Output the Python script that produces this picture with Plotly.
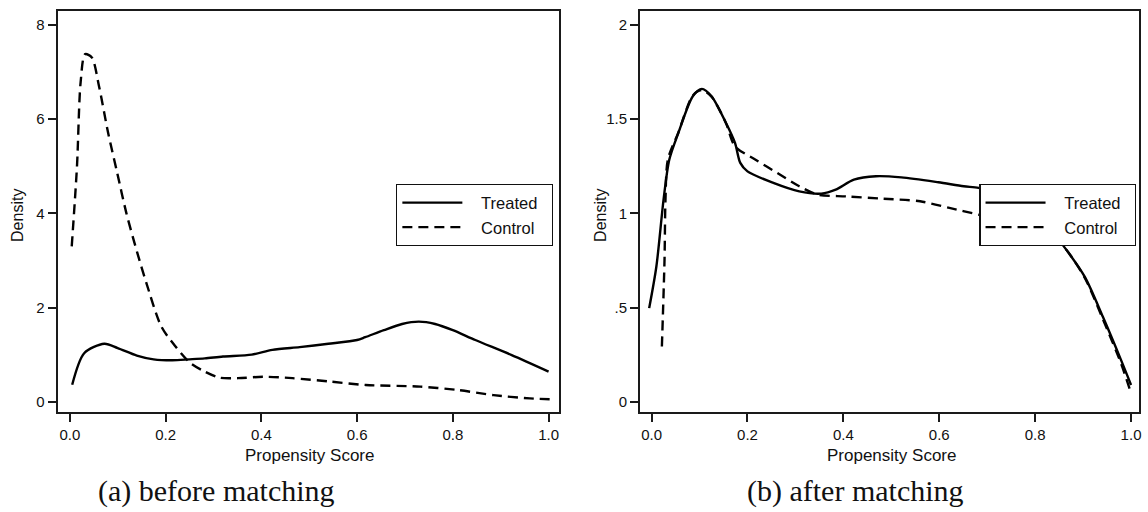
import plotly.graph_objects as go

W, H = 1148, 512

# ---------------- data ----------------
# (a) before matching
treated_a_x = [0.005, 0.03, 0.072, 0.10, 0.14, 0.175, 0.214, 0.25, 0.282, 0.32, 0.38, 0.423,
               0.48, 0.54, 0.60, 0.617, 0.656, 0.694, 0.729, 0.763, 0.80, 0.847, 0.923, 1.0]
treated_a_y = [0.36, 1.03, 1.23, 1.14, 0.98, 0.90, 0.88, 0.90, 0.92, 0.96, 1.00, 1.10,
               1.16, 1.23, 1.31, 1.37, 1.52, 1.65, 1.70, 1.65, 1.52, 1.31, 0.99, 0.64]
control_a_x = [0.004, 0.015, 0.0225, 0.032, 0.046, 0.061, 0.080, 0.099, 0.118, 0.141, 0.160,
               0.191, 0.221, 0.252, 0.282, 0.313, 0.351, 0.404, 0.465, 0.542, 0.618, 0.732,
               0.809, 0.885, 0.961, 1.007]
control_a_y = [3.30, 5.0, 6.77, 7.38, 7.31, 6.70, 5.71, 4.86, 4.01, 3.16, 2.52,
               1.60, 1.17, 0.82, 0.64, 0.51, 0.50, 0.53, 0.50, 0.43, 0.355, 0.32,
               0.25, 0.14, 0.07, 0.05]

# (b) after matching
treated_b_x = [-0.005, 0.010, 0.025, 0.037, 0.056, 0.086, 0.105, 0.125, 0.155, 0.174, 0.185,
               0.20, 0.254, 0.308, 0.354, 0.384, 0.422, 0.468, 0.521, 0.598, 0.651, 0.682,
               0.72, 0.77, 0.82, 0.857, 0.903, 0.941, 0.979, 1.0]
treated_b_y = [0.497, 0.718, 1.073, 1.286, 1.428, 1.622, 1.661, 1.622, 1.481, 1.374, 1.268,
               1.223, 1.162, 1.117, 1.105, 1.126, 1.179, 1.197, 1.191, 1.165, 1.144, 1.135,
               1.11, 1.05, 0.95, 0.834, 0.665, 0.452, 0.222, 0.089]
control_b_x = [0.0215, 0.027, 0.029, 0.034, 0.056, 0.086, 0.105, 0.125, 0.155, 0.174, 0.216,
               0.262, 0.308, 0.346, 0.407, 0.483, 0.560, 0.621, 0.682, 0.72, 0.77, 0.82,
               0.857, 0.903, 0.941, 0.979, 1.0]
control_b_y = [0.293, 0.754, 1.073, 1.286, 1.43, 1.625, 1.655, 1.62, 1.48, 1.356, 1.286,
               1.215, 1.144, 1.10, 1.09, 1.078, 1.064, 1.029, 0.993, 0.97, 0.94, 0.89,
               0.83, 0.66, 0.44, 0.204, 0.045]

x_ticks = [0, 0.2, 0.4, 0.6, 0.8, 1.0]
x_ticktext = ["0.0", "0.2", "0.4", "0.6", "0.8", "1.0"]
ya_ticks = [0, 2, 4, 6, 8]
ya_ticktext = ["0", "2", "4", "6", "8"]
yb_ticks = [0, 0.5, 1, 1.5, 2]
yb_ticktext = ["0", ".5", "1", "1.5", "2"]

series_names = ["Treated", "Control"]
captions = ["(a) before matching", "(b) after matching"]
x_title = "Propensity Score"
y_title = "Density"

# ---------------- figure ----------------
SANS = "Liberation Sans, Arial, sans-serif"
SERIF = "Liberation Serif, Times New Roman, serif"
INK = "#000000"
LEAD = "\u00a0\u00a0\u00a0"
TRAIL = "\u00a0\u00a0"

def px_x(p):
    return p / W

def px_y(p):
    return 1 - p / H

fig = go.Figure()
line_w = 2.4
dash_pat = "10px,6px"

fig.add_trace(go.Scatter(x=treated_a_x, y=treated_a_y, mode="lines", name=LEAD + series_names[0] + TRAIL,
                         line=dict(color=INK, width=line_w, shape="spline", smoothing=0.8),
                         xaxis="x", yaxis="y", legend="legend", legendgroup="a1"))
fig.add_trace(go.Scatter(x=control_a_x, y=control_a_y, mode="lines", name=LEAD + series_names[1] + TRAIL,
                         line=dict(color=INK, width=line_w, dash=dash_pat, shape="spline", smoothing=0.8),
                         xaxis="x", yaxis="y", legend="legend", legendgroup="a2"))
fig.add_trace(go.Scatter(x=treated_b_x, y=treated_b_y, mode="lines", name=LEAD + series_names[0] + TRAIL,
                         line=dict(color=INK, width=line_w, shape="spline", smoothing=0.8),
                         xaxis="x2", yaxis="y2", legend="legend2", legendgroup="b1"))
fig.add_trace(go.Scatter(x=control_b_x, y=control_b_y, mode="lines", name=LEAD + series_names[1] + TRAIL,
                         line=dict(color=INK, width=line_w, dash=dash_pat, shape="spline", smoothing=0.8),
                         xaxis="x2", yaxis="y2", legend="legend2", legendgroup="b2"))

axis_common = dict(showline=True, linecolor="#1a1a1a", linewidth=2, mirror=True,
                   ticks="outside", ticklen=8, tickwidth=1.6, tickcolor="#1a1a1a",
                   showgrid=False, zeroline=False,
                   tickfont=dict(family=SANS, size=15, color="#111"))

legend_common = dict(xanchor="left", yanchor="top",
                     bordercolor="#111", borderwidth=1.4, bgcolor="white",
                     font=dict(family=SANS, size=16.5, color="#111"),
                     itemwidth=60, tracegroupgap=0, itemclick=False)

fig.update_layout(
    width=W, height=H,
    margin=dict(l=0, r=0, t=0, b=0),
    paper_bgcolor="white", plot_bgcolor="white",
    xaxis=dict(domain=[px_x(57.8), px_x(560)], range=[-0.0254, 1.0208], anchor="y",
               tickvals=x_ticks, ticktext=x_ticktext, **axis_common),
    yaxis=dict(domain=[px_y(411.7), px_y(10.7)], range=[-0.212, 8.303], anchor="x",
               tickvals=ya_ticks, ticktext=ya_ticktext, **axis_common),
    xaxis2=dict(domain=[px_x(641.7), px_x(1141.7)], range=[-0.0241, 1.016], anchor="y2",
                tickvals=x_ticks, ticktext=x_ticktext, **axis_common),
    yaxis2=dict(domain=[px_y(411.7), px_y(10.7)], range=[-0.053, 2.076], anchor="x2",
                tickvals=yb_ticks, ticktext=yb_ticktext, **axis_common),
    legend=dict(x=px_x(397), y=px_y(184), **legend_common),
    legend2=dict(x=px_x(981.7), y=px_y(184), **legend_common),
    showlegend=True,
)

annotations = [
    dict(text=y_title, x=px_x(17), y=px_y(215), textangle=-90,
         font=dict(family=SANS, size=16, color="#111")),
    dict(text=y_title, x=px_x(601.5), y=px_y(215), textangle=-90,
         font=dict(family=SANS, size=16, color="#111")),
    dict(text=x_title, x=px_x(310), y=px_y(455),
         font=dict(family=SANS, size=17, color="#111")),
    dict(text=x_title, x=px_x(893.7), y=px_y(455),
         font=dict(family=SANS, size=17, color="#111")),
    dict(text=captions[0], x=px_x(216.7), y=px_y(491),
         font=dict(family=SERIF, size=30, color="#111")),
    dict(text=captions[1], x=px_x(857.3), y=px_y(491),
         font=dict(family=SERIF, size=30, color="#111")),
]
for a in annotations:
    a.update(xref="paper", yref="paper", xanchor="center", yanchor="middle", showarrow=False)
fig.update_layout(annotations=annotations)

# remove the browser's default 8px body margin so the figure sits at the page origin
fig.write_html("out.html",
               config={"displayModeBar": False},
               post_script="document.body.style.margin='0';document.body.style.overflow='hidden';")
